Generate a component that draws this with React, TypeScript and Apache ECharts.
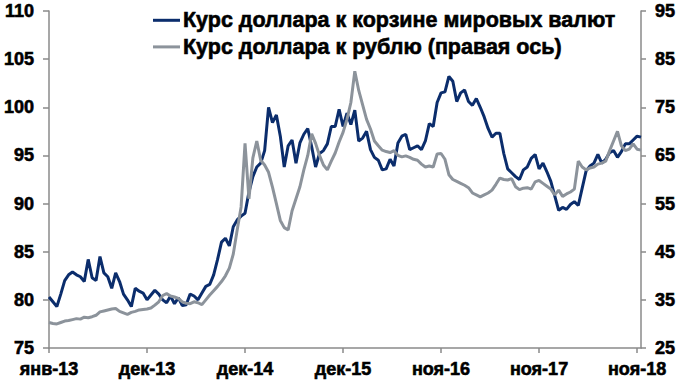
import React, { useEffect, useRef } from "react";
import * as echarts from "echarts";

const tickLabels = ["янв-13", "дек-13", "дек-14", "дек-15", "ноя-16", "ноя-17", "ноя-18"];
const tickStep = 25;

const seriesNames = ["Курс доллара к корзине мировых валют", "Курс доллара к рублю (правая ось)"];

// Dollar index (left axis), roughly two-week steps
const dollarIndex = [
  80.3, 79.8, 79.3, 80.6, 82.0, 82.6, 82.9, 82.6, 82.4, 81.9,
  84.2, 82.3, 82.0, 84.5, 82.8, 82.4, 81.2, 82.8, 81.9, 80.6,
  80.0, 79.3, 81.2, 80.9, 80.7, 80.0, 80.5, 81.0, 80.6, 80.0,
  79.7, 80.4, 79.6, 80.2, 79.4, 79.5, 80.6, 80.4, 80.0, 80.7,
  81.4, 81.6, 82.6, 84.2, 86.0, 86.4, 85.6, 87.6, 88.3, 88.7,
  89.0, 91.2, 92.8, 93.8, 94.2, 95.5, 100.0, 98.4, 99.2, 97.0,
  93.8, 96.0, 96.6, 94.2, 96.3, 97.2, 97.8, 95.9, 93.8, 95.2,
  95.5, 96.2, 98.0, 98.0, 99.8, 98.0, 99.4, 98.2, 99.7, 96.5,
  96.8, 97.5, 95.6, 94.8, 94.5, 93.5, 93.6, 94.6, 93.9, 96.3,
  97.0, 97.2, 95.6, 95.8, 96.0, 95.6, 96.5, 98.3, 98.0, 100.5,
  101.5, 101.6, 103.2, 102.7, 100.6, 101.5, 101.8, 100.6, 100.2, 100.9,
  100.0, 99.0, 97.8, 96.9, 97.3, 97.3, 95.2, 93.6, 93.2, 92.8,
  92.5, 93.5, 93.8, 94.7, 95.1, 93.6, 94.2, 93.3, 92.3, 90.8,
  89.3, 89.6, 89.4, 89.9, 90.2, 89.8, 91.6, 93.4, 93.9, 94.2,
  95.1, 94.2, 94.6, 95.3, 95.5, 94.8, 95.4, 96.2, 96.2, 96.6,
  97.0, 96.9,
];

// USD/RUB (right axis)
const usdRub = [
  30.3, 30.1, 30.0, 30.3, 30.6, 30.7, 30.9, 31.1, 31.0, 31.4,
  31.3, 31.5, 31.8, 32.5, 32.7, 32.9, 33.1, 33.2, 32.6, 32.3,
  32.0, 32.4, 32.6, 32.9, 33.0, 33.1, 33.3, 33.9, 34.6, 35.9,
  36.3, 35.8, 35.6, 35.3, 34.6, 34.3, 34.2, 34.6, 34.4, 34.0,
  35.0, 36.0, 36.9, 37.8, 38.8, 40.0, 41.6, 44.5, 49.5, 54.3,
  67.5, 56.0, 64.5, 68.0, 64.0, 63.0, 61.5, 58.4, 55.0, 51.5,
  50.0, 49.5, 53.5, 56.0, 58.5, 62.0, 65.0, 69.5, 67.5, 65.0,
  63.0, 62.0, 63.8, 65.5, 67.8, 69.8, 72.5, 76.0, 82.5, 78.5,
  75.5, 72.5, 70.5, 68.0, 67.0, 66.1, 65.8, 65.6, 66.0, 65.0,
  64.7, 64.9, 64.6, 64.2, 64.0, 63.2, 62.6, 62.8, 62.6, 65.3,
  65.4, 64.2, 61.0, 60.0, 59.6, 59.2, 58.8, 58.3, 57.2, 56.8,
  56.4, 56.8, 57.2, 57.8, 59.0, 60.3, 60.0, 59.9, 60.2, 58.5,
  57.9, 58.2, 58.3, 58.0, 59.5, 59.8, 59.2, 58.6, 58.0, 56.8,
  57.8, 56.5, 57.0, 57.4, 58.0, 63.8, 62.6, 62.0, 62.4, 62.6,
  63.2, 63.4, 63.8, 66.0, 68.0, 70.0, 67.0, 66.0, 66.3, 67.4,
  66.3, 66.1,
];

const leftTicks = { min: 75, max: 110, interval: 5 };
const rightTickValues = [25, 35, 45, 55, 65, 75, 85, 95];

export default function App() {
  const ref = useRef<HTMLDivElement>(null);

  useEffect(() => {
    if (!ref.current) return;
    const chart = echarts.init(ref.current, null, { renderer: "svg" });
    const categories = dollarIndex.map((_, i) => String(i));
    const axisLabelStyle = {
      color: "#000",
      fontFamily: "Liberation Sans, Arial, sans-serif",
      fontWeight: "bold" as const,
      fontSize: 18,
      textBorderColor: "#000",
      textBorderWidth: 0.6,
    };
    const axisLine = { show: true, lineStyle: { color: "#8a8a8a", width: 1.5 } };
    chart.setOption({
      animation: false,
      grid: { left: 49, right: 38, top: 11, bottom: 35, containLabel: false },
      legend: {
        orient: "vertical",
        left: 148,
        top: 4,
        itemWidth: 27,
        itemHeight: 3,
        itemGap: 4,
        icon: "rect",
        textStyle: {
          color: "#000",
          fontFamily: "Liberation Sans, Arial, sans-serif",
          fontWeight: "bold",
          fontSize: 21.5,
          lineHeight: 21,
          textBorderColor: "#000",
          textBorderWidth: 0.6,
          padding: [0, 0, 0, -2],
        },
        data: seriesNames,
      },
      xAxis: {
        type: "category",
        boundaryGap: false,
        data: categories,
        axisLine,
        axisTick: { show: true, interval: tickStep - 1, length: 5, lineStyle: { color: "#8a8a8a", width: 1.5 } },
        axisLabel: {
          ...axisLabelStyle,
          interval: tickStep - 1,
          margin: 12,
          formatter: (_: string, idx: number) => tickLabels[Math.round(idx / tickStep)] ?? "",
        },
        splitLine: { show: false },
      },
      yAxis: [
        {
          type: "value",
          min: leftTicks.min,
          max: leftTicks.max,
          interval: leftTicks.interval,
          axisLine,
          axisTick: { show: true, length: 6, lineStyle: { color: "#8a8a8a", width: 1.5 } },
          axisLabel: { ...axisLabelStyle, margin: 15 },
          splitLine: { show: false },
        },
        {
          type: "value",
          position: "right",
          min: 25,
          max: 95,
          axisLine,
          axisTick: { show: true, length: 5, customValues: rightTickValues, lineStyle: { color: "#8a8a8a", width: 1.5 } },
          axisLabel: { ...axisLabelStyle, margin: 14, customValues: rightTickValues },
          splitLine: { show: false },
        },
      ],
      series: [
        {
          name: seriesNames[0],
          type: "line",
          yAxisIndex: 0,
          data: dollarIndex,
          showSymbol: false,
          symbol: "none",
          lineStyle: { color: "#0B2D6C", width: 3 },
          itemStyle: { color: "#0B2D6C" },
        },
        {
          name: seriesNames[1],
          type: "line",
          yAxisIndex: 1,
          data: usdRub,
          showSymbol: false,
          symbol: "none",
          lineStyle: { color: "#8C939B", width: 3 },
          itemStyle: { color: "#8C939B" },
        },
      ],
    });
    return () => chart.dispose();
  }, []);

  return (
    <div
      ref={ref}
      style={{ position: "fixed", left: 0, top: 0, width: 679, height: 383, background: "#fff" }}
    />
  );
}
